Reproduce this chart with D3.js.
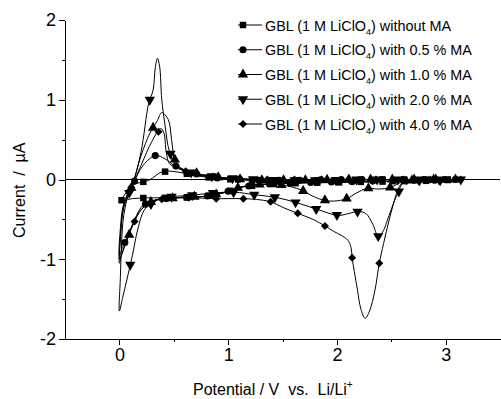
<!DOCTYPE html>
<html lang="en">
<head>
<meta charset="UTF-8">
<title>cv curves</title>
<script src="https://cdn.jsdelivr.net/npm/d3@7/dist/d3.min.js"></script>
<style>
  body { margin: 0; background: #fff; }
  svg { display: block; font-family: "Liberation Sans", Arial, sans-serif; }
  .axis path, .axis line { stroke: #000; shape-rendering: crispEdges; }
  .axis text { font-size: 18px; fill: #000; }
  .cv-line { fill: none; stroke: #000; stroke-width: 1; }
  .zero-line { stroke: #000; shape-rendering: crispEdges; }
  .title { font-size: 16px; fill: #000; white-space: pre; }
  .legend text { font-size: 14.4px; fill: #000; white-space: pre; }
</style>
</head>
<body>
<svg width="501" height="399"></svg>
<script>
// potential (V vs Li/Li+), current (uA); cathodic scan first, then anodic back
var cv00 = [[3.15,0],[2.95,-0.01],[2.75,-0.02],[2.55,-0.02],[2.35,-0.03],[2.15,-0.03],[1.95,-0.04],[1.75,-0.04],[1.55,-0.05],[1.35,-0.06],[1.15,-0.09],[1.0,-0.15],[0.85,-0.2],[0.7,-0.22],[0.55,-0.23],[0.4,-0.23],[0.25,-0.23],[0.12,-0.24],[0.02,-0.26],
  [0.06,-0.17],[0.12,-0.07],[0.27,-0.01],[0.4,0.1],[0.55,0.09],[0.7,0.05],[0.85,0.02],[1.05,0],[1.25,-0.01],[1.45,-0.01],[1.65,-0.01],[1.85,-0.01],[2.05,-0.01],[2.25,0],[2.45,0],[2.65,0],[2.85,0],[3.05,0]];

var cv05 = [[3.1,0],[2.9,-0.01],[2.7,-0.01],[2.5,-0.02],[2.3,-0.02],[2.1,-0.03],[1.9,-0.03],[1.7,-0.04],[1.5,-0.05],[1.3,-0.06],[1.1,-0.1],[0.95,-0.17],[0.8,-0.21],[0.65,-0.22],[0.5,-0.23],[0.35,-0.25],[0.22,-0.32],[0.14,-0.5],[0.08,-0.7],[0.03,-0.85],[0,-0.95],
  [0.01,-0.6],[0.04,-0.3],[0.12,-0.07],[0.22,0.18],[0.33,0.3],[0.42,0.26],[0.5,0.18],[0.6,0.12],[0.75,0.05],[0.9,0.02],[1.1,0],[1.3,-0.01],[1.5,-0.01],[1.7,-0.01],[1.9,0],[2.1,0],[2.3,0],[2.5,0],[2.7,0],[2.9,0],[3.1,0]];

var cv10 = [[3.1,0],[2.9,0],[2.7,-0.01],[2.6,-0.03],[2.49,-0.1],[2.38,-0.12],[2.28,-0.11],[2.18,-0.17],[2.09,-0.24],[1.98,-0.27],[1.88,-0.26],[1.78,-0.21],[1.67,-0.13],[1.5,-0.07],[1.3,-0.06],[1.1,-0.1],[0.95,-0.17],[0.8,-0.21],[0.6,-0.22],[0.45,-0.24],[0.3,-0.27],[0.2,-0.38],[0.13,-0.55],[0.06,-0.8],[0.02,-0.95],[0,-1.05],
  [0.01,-0.7],[0.04,-0.35],[0.12,-0.07],[0.2,0.3],[0.28,0.58],[0.35,0.74],[0.39,0.84],[0.45,0.75],[0.48,0.5],[0.51,0.25],[0.56,0.15],[0.65,0.1],[0.8,0.05],[0.95,0.02],[1.15,0],[1.35,-0.01],[1.55,-0.01],[1.75,-0.01],[1.95,0],[2.15,0],[2.35,0],[2.55,0],[2.75,0],[2.95,0],[3.1,0]];

var cv20 = [[3.15,0],[2.95,-0.01],[2.75,-0.01],[2.62,-0.03],[2.55,-0.2],[2.48,-0.45],[2.42,-0.66],[2.38,-0.71],[2.33,-0.56],[2.27,-0.43],[2.2,-0.4],[2.1,-0.43],[2.01,-0.45],[1.82,-0.375],[1.63,-0.29],[1.44,-0.225],[1.24,-0.19],[1.06,-0.16],[0.85,-0.17],[0.65,-0.2],[0.45,-0.22],[0.32,-0.27],[0.23,-0.38],[0.17,-0.62],[0.12,-0.95],[0.07,-1.25],[0.03,-1.48],[0,-1.65],
  [0.01,-1.2],[0.02,-0.8],[0.04,-0.45],[0.08,-0.2],[0.12,-0.07],[0.2,0.35],[0.27,0.96],[0.31,1.12],[0.33,1.4],[0.35,1.52],[0.37,1.42],[0.39,1.0],[0.42,0.68],[0.46,0.35],[0.52,0.18],[0.62,0.1],[0.75,0.06],[0.9,0.03],[1.1,0.01],[1.3,0],[1.5,-0.01],[1.7,-0.01],[1.9,-0.01],[2.1,0],[2.3,0],[2.5,0],[2.7,0],[2.9,0],[3.1,0]];

var cv40 = [[3.17,0],[2.97,0],[2.77,-0.01],[2.62,-0.02],[2.57,-0.1],[2.53,-0.26],[2.48,-0.51],[2.43,-0.8],[2.39,-1.05],[2.35,-1.39],[2.3,-1.65],[2.26,-1.74],[2.22,-1.62],[2.19,-1.39],[2.16,-1.15],[2.14,-0.98],[2.13,-0.85],[2.1,-0.76],[2.04,-0.7],[1.97,-0.65],[1.9,-0.59],[1.78,-0.5],[1.65,-0.43],[1.52,-0.36],[1.39,-0.28],[1.26,-0.25],[1.13,-0.24],[1.0,-0.24],[0.88,-0.24],[0.7,-0.23],[0.52,-0.23],[0.38,-0.25],[0.28,-0.29],[0.2,-0.38],[0.13,-0.55],[0.07,-0.75],[0.03,-0.9],[0,-1.0],
  [0.01,-0.75],[0.03,-0.42],[0.07,-0.2],[0.12,-0.07],[0.2,0.18],[0.3,0.48],[0.38,0.64],[0.41,0.58],[0.43,0.35],[0.46,0.2],[0.52,0.15],[0.62,0.1],[0.75,0.06],[0.9,0.03],[1.1,0.01],[1.3,0],[1.5,0],[1.7,0],[1.9,0],[2.1,0],[2.3,0],[2.5,0],[2.7,0],[2.9,0],[3.1,0]];

var seriesData = [cv00, cv05, cv10, cv20, cv40];
var seriesNames = ['without MA', 'with 0.5 % MA', 'with 1.0 % MA', 'with 2.0 % MA', 'with 4.0 % MA'];
var xTicks = [0, 1, 2, 3];
var xMinor = [0.5, 1.5, 2.5];
var yTicks = [-2, -1, 0, 1, 2];
var yMinor = [-1.5, -0.5, 0.5, 1.5];

var symbols = [
  { type: d3.symbolSquare, size: 42, rotate: 0 },
  { type: d3.symbolCircle, size: 40, rotate: 0 },
  { type: d3.symbolTriangle, size: 46, rotate: 0 },
  { type: d3.symbolTriangle, size: 46, rotate: 180 },
  { type: d3.symbolSquare, size: 32, rotate: 45 }
];
// symbols sit at even steps of scanned potential, like the sampling of the scan
var markStep = [0.2, 0.19, 0.2, 0.19, 0.25];
var markStart = [0.13, 0.01, 0.01, 0.01, 0.03];

var svg = d3.select('svg');
var x = d3.scaleLinear().domain([-0.5, 3.5]).range([65, 500]);
var y = d3.scaleLinear().domain([-2, 2]).range([339, 20]);
var fmt = function(d) { return String(d); };

// axes
svg.append('g').attr('class', 'axis').attr('transform', 'translate(0,339)')
  .call(d3.axisBottom(x).tickValues(xTicks).tickSize(6).tickPadding(3).tickSizeOuter(0).tickFormat(fmt));
svg.append('g').attr('class', 'axis').attr('transform', 'translate(0,339)')
  .call(d3.axisBottom(x).tickValues(xMinor).tickSize(3).tickSizeOuter(0).tickFormat(''))
  .select('.domain').remove();
svg.append('g').attr('class', 'axis').attr('transform', 'translate(65,0)')
  .call(d3.axisLeft(y).tickValues(yTicks).tickSize(6).tickPadding(3).tickSizeOuter(0).tickFormat(fmt));
svg.append('g').attr('class', 'axis').attr('transform', 'translate(65,0)')
  .call(d3.axisLeft(y).tickValues(yMinor).tickSize(3).tickSizeOuter(0).tickFormat(''))
  .select('.domain').remove();
svg.selectAll('.axis').attr('font-family', null).attr('font-size', null);

svg.append('line').attr('class', 'zero-line')
  .attr('x1', x(-0.5)).attr('x2', x(3.5)).attr('y1', y(0)).attr('y2', y(0));

// axis titles
svg.append('text').attr('class', 'title')
  .attr('transform', 'translate(25,238) rotate(-90)')
  .text('Current  /  \u00b5A');
var xt = svg.append('text').attr('class', 'title').attr('x', 193).attr('y', 395);
xt.append('tspan').text('Potential / V  vs.  Li/Li');
xt.append('tspan').attr('dy', -7).style('font-size', '10px').text('+');

// curves
var line = d3.line()
  .x(function(d) { return x(d[0]); })
  .y(function(d) { return y(d[1]); })
  .curve(d3.curveCatmullRom.alpha(0.5));

function markerPoints(pts, step, start) {
  var out = [], travel = 0, next = start;
  for (var i = 1; i < pts.length; i++) {
    var a = pts[i - 1], b = pts[i];
    var d = Math.abs(b[0] - a[0]);
    while (next <= travel + d) {
      var f = d === 0 ? 0 : (next - travel) / d;
      out.push([a[0] + f * (b[0] - a[0]), a[1] + f * (b[1] - a[1])]);
      next += step;
    }
    travel += d;
  }
  return out;
}

function symPath(k) {
  return d3.symbol().type(symbols[k].type).size(symbols[k].size)();
}

seriesData.forEach(function(pts, k) {
  svg.append('path').attr('class', 'cv-line').attr('d', line(pts));
  svg.selectAll('.mk' + k)
    .data(markerPoints(pts, markStep[k], markStart[k]))
    .enter().append('path')
    .attr('class', 'mk' + k)
    .attr('d', symPath(k))
    .attr('transform', function(d) {
      return 'translate(' + x(d[0]) + ',' + y(d[1]) + ') rotate(' + symbols[k].rotate + ')';
    })
    .attr('fill', '#000');
});

// legend
var legend = svg.append('g').attr('class', 'legend');
seriesNames.forEach(function(name, k) {
  var ly = 25 + k * 24.75;
  legend.append('line').attr('x1', 238).attr('x2', 262).attr('y1', ly).attr('y2', ly)
    .attr('stroke', '#000');
  legend.append('path').attr('d', symPath(k))
    .attr('transform', 'translate(243,' + ly + ') rotate(' + symbols[k].rotate + ')');
  var t = legend.append('text').attr('x', 265).attr('y', ly + 5.5);
  t.append('tspan').text('GBL (1 M LiClO');
  t.append('tspan').attr('dy', 4).style('font-size', '9px').text('4');
  t.append('tspan').attr('dy', -4).text(') ' + name);
});
</script>
</body>
</html>
